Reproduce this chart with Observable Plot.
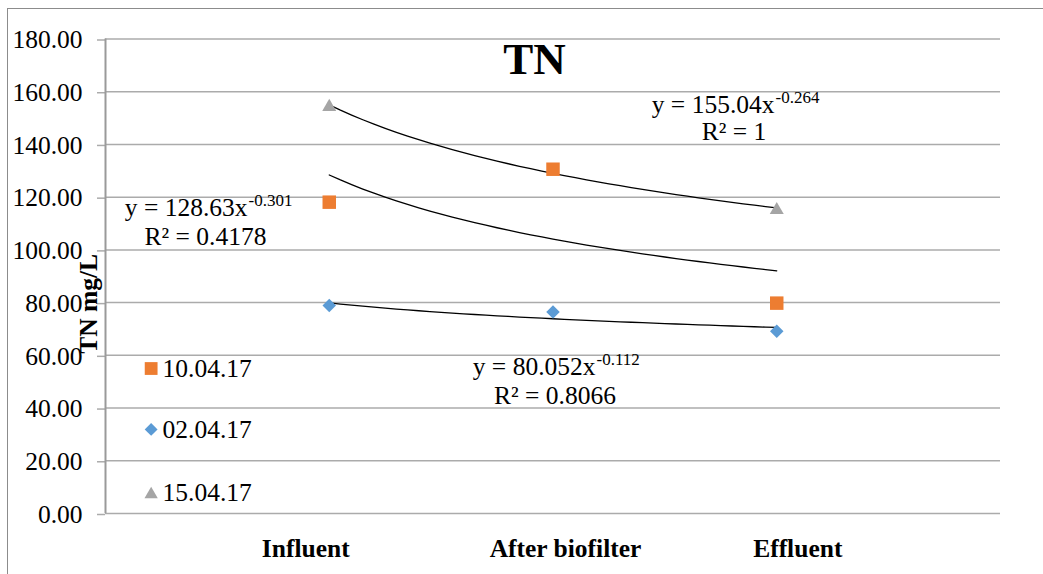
<!DOCTYPE html>
<html><head><meta charset="utf-8">
<script src="https://cdn.jsdelivr.net/npm/d3@7"></script>
<script src="https://cdn.jsdelivr.net/npm/@observablehq/plot@0.6"></script>
<style>
html,body{margin:0;padding:0;background:#fff;}
#wrap{position:relative;width:1043px;height:574px;overflow:hidden;}
#frame{position:absolute;left:7px;top:8px;width:1100px;height:600px;border-left:1.5px solid #8c8c8c;border-top:1.5px solid #8c8c8c;}
#chart{position:absolute;left:0;top:0;}
</style></head><body>
<div id="wrap"><div id="frame"></div><div id="chart"></div></div>
<script>
// ---- data ----
const categories = ["Influent", "After biofilter", "Effluent"];
const seriesNames = ["10.04.17", "02.04.17", "15.04.17"];
const values1004 = [118.1, 130.6, 79.8];
const values0204 = [78.9, 76.4, 69.1];
const values1504 = [155.0, null, 115.9];
const yTicks = [0, 20, 40, 60, 80, 100, 120, 140, 160, 180];
const equationTexts = ["y = 128.63x", "y = 80.052x", "y = 155.04x"];
const exponentTexts = ["-0.301", "-0.112", "-0.264"];
const r2Texts = ["R² = 0.4178", "R² = 0.8066", "R² = 1"];

// ---- styles ----
const colors = ["#ED7D31", "#5B9BD5", "#A5A5A5"];
const symbols = ["square", "diamond2", "triangle"];
const radii = [7.6, 6.1, 5.2];
const symDy = [0, 0, 2];
const serif = "'Liberation Serif','Times New Roman',serif";
const FS = 25.5;

const seriesValues = [values1004, values0204, values1504];

function powerFit(vals) {
  const pts = vals.map((v, i) => [i + 1, v]).filter(d => d[1] != null);
  const lx = pts.map(d => Math.log(d[0])), ly = pts.map(d => Math.log(d[1]));
  const mx = d3.mean(lx), my = d3.mean(ly);
  const b = d3.sum(lx.map((x, i) => (x - mx) * (ly[i] - my))) / d3.sum(lx.map(x => (x - mx) ** 2));
  return {a: Math.exp(my - b * mx), b};
}

const points = [];
seriesValues.forEach((vals, s) => vals.forEach((v, i) => {
  if (v != null) points.push({series: seriesNames[s], s, xi: i + 1, value: v});
}));

const curves = [];
seriesValues.forEach((vals, s) => {
  const {a, b} = powerFit(vals);
  d3.range(0, 41).forEach(k => {
    const x = 1 + k * 0.05;
    curves.push({series: seriesNames[s], x, y: a * Math.pow(x, b)});
  });
});

// annotation placement (data units)
const eqPos = [
  {x: 0.635, y: 113.0, rx: 0.447, ry: 101.7},
  {x: 2.190, y: 52.35, rx: 2.009, ry: 41.7},
  {x: 2.990, y: 152.1, rx: 2.809, ry: 141.5}
];
const eqRows = eqPos.map((p, i) => ({...p, eq: equationTexts[i], exp: exponentTexts[i], r2: r2Texts[i]}));

const legendPos = [{x: 0.204, y: 55.0}, {x: 0.204, y: 31.9}, {x: 0.204, y: 8.0}];
const legendRows = seriesNames.map((n, i) => ({name: n, s: i, ...legendPos[i]}));

const labelDx = [-23.5, 12.5, 21];

const marks = [
  Plot.ruleY(yTicks, {stroke: "#ababab", strokeWidth: 1.5}),
  Plot.axisY({ticks: yTicks, tickSize: 8, tickPadding: 15, stroke: "#ababab", strokeWidth: 1.5,
    fill: "black", fontSize: FS, dy: 1, tickFormat: d => d.toFixed(2), label: null}),
  Plot.ruleX([0], {stroke: "#9a9a9a", strokeWidth: 2}),
  Plot.line(curves, {x: "x", y: "y", z: "series", stroke: "black", strokeWidth: 1.3}),
];
seriesNames.forEach((n, s) => {
  marks.push(Plot.dot(points.filter(d => d.s === s), {x: "xi", y: "value", symbol: symbols[s], r: radii[s],
    fill: colors[s], stroke: "none", dy: symDy[s]}));
  marks.push(Plot.dot(legendRows.filter(d => d.s === s), {x: "x", y: "y", symbol: symbols[s], r: radii[s] * 0.95,
    fill: colors[s], stroke: "none", dy: symDy[s]}));
});
marks.push(
  Plot.text(legendRows, {x: d => d.x + 0.051, y: "y", text: "name", textAnchor: "start", fontSize: FS, fill: "black"}),
  Plot.text(eqRows, {x: "x", y: "y", text: "eq", textAnchor: "end", lineAnchor: "bottom", fontSize: FS, fill: "black"}),
  Plot.text(eqRows, {x: "x", y: "y", text: "exp", textAnchor: "start", lineAnchor: "bottom", dx: 1, dy: -10, fontSize: 17, fill: "black"}),
  Plot.text(eqRows, {x: "rx", y: "ry", text: "r2", textAnchor: "middle", lineAnchor: "bottom", fontSize: FS, fill: "black"}),
  Plot.text(["TN"], {frameAnchor: "top", dx: -18.5, dy: 34.5, lineAnchor: "bottom", fontSize: 45, fontWeight: "bold", fill: "black"}),
  Plot.text(["TN mg/L"], {x: -0.0358, y: 79.5, rotate: -90, lineAnchor: "bottom", fontSize: FS, fontWeight: "bold", fill: "black"})
);
categories.forEach((c, i) => {
  marks.push(Plot.text([c], {x: i + 1, frameAnchor: "bottom", dy: 43, dx: labelDx[i], lineAnchor: "bottom",
    fontSize: FS, fontWeight: "bold", fill: "black"}));
});

const chart = Plot.plot({
  width: 1043, height: 574,
  marginLeft: 105, marginRight: 43, marginTop: 38.5, marginBottom: 61,
  x: {domain: [-0.2, 4], range: [105 - 0.2 * 223.75, 1000], axis: null},
  y: {domain: [0, 180]},
  style: {fontFamily: serif, background: "transparent", color: "black", overflow: "visible"},
  marks
});
document.getElementById("chart").appendChild(chart);
</script>
</body></html>
